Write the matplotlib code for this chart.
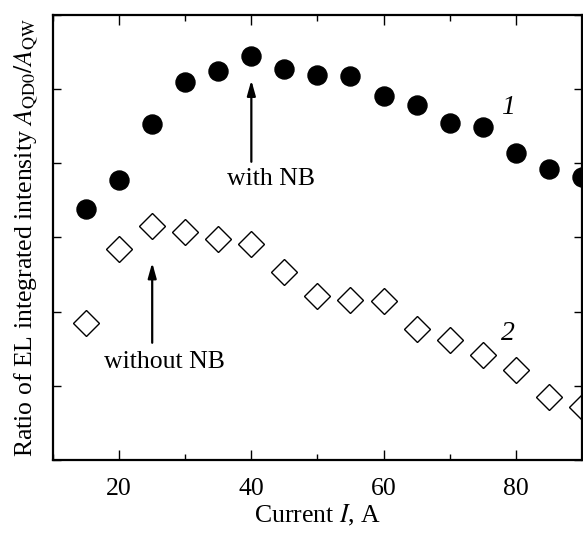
import matplotlib
matplotlib.use("Agg")
import matplotlib.pyplot as plt
from matplotlib.ticker import MultipleLocator

plt.rcParams['font.family'] = 'Liberation Serif'
plt.rcParams['mathtext.fontset'] = 'stix'

# current, A
current = [15, 20, 25, 30, 35, 40, 45, 50, 55, 60, 65, 70, 75, 80, 85, 90]
# ratio with NB (curve 1)
with_nb = [3.39, 3.78, 4.53, 5.09, 5.24, 5.45, 5.27, 5.19, 5.18, 4.91,
           4.79, 4.54, 4.49, 4.14, 3.92, 3.82]
# ratio without NB (curve 2)
without_nb = [1.84, 2.84, 3.15, 3.08, 2.98, 2.91, 2.53, 2.21, 2.16, 2.14,
              1.76, 1.62, 1.42, 1.21, 0.85, 0.72]

fig = plt.figure(figsize=(5.83, 5.33), dpi=100)
ax = fig.add_axes([0.091, 0.137, 0.907, 0.835])

ax.plot(current, with_nb, 'o', ms=13.7, color='black')
ax.plot(current, without_nb, 'D', ms=12.8, mfc='white', mec='black', mew=1.0)

ax.set_xlim(10, 90)
ax.set_ylim(0, 6)
ax.xaxis.set_major_locator(MultipleLocator(20))
ax.xaxis.set_minor_locator(MultipleLocator(10))
ax.yaxis.set_major_locator(MultipleLocator(1))
ax.set_yticklabels([])
ax.tick_params(which='both', direction='in', top=True, right=True,
               labelsize=18.5, width=1)
ax.tick_params(which='major', length=7)
ax.tick_params(which='minor', length=4)
ax.tick_params(axis='y', which='major', length=6)
ax.tick_params(axis='x', pad=13)
for s in ax.spines.values():
    s.set_linewidth(1.6)

ax.set_xlabel("Current $I$, A", fontsize=18.5, labelpad=2)
ax.set_ylabel(r"Ratio of EL integrated intensity $A_{\rm QD0}/A_{\rm QW}$",
              fontsize=18.5, labelpad=6)

# arrows and labels
ax.annotate("", xy=(40, 5.12), xytext=(40, 4.02),
            arrowprops=dict(arrowstyle='-|>,head_length=0.9,head_width=0.25',
                            color='black', lw=1.6, shrinkA=0, shrinkB=0))
ax.annotate("", xy=(25, 2.66), xytext=(25, 1.58),
            arrowprops=dict(arrowstyle='-|>,head_length=0.9,head_width=0.25',
                            color='black', lw=1.6, shrinkA=0, shrinkB=0))
ax.text(43, 3.71, "with NB", fontsize=18.5, ha='center', va='baseline')
ax.text(26.9, 1.24, "without NB", fontsize=18.5, ha='center', va='baseline')
ax.text(78.8, 4.75, "1", fontsize=20, style='italic', ha='center', va='center')
ax.text(78.8, 1.71, "2", fontsize=20, style='italic', ha='center', va='center')

fig.savefig("out.png", dpi=100)
